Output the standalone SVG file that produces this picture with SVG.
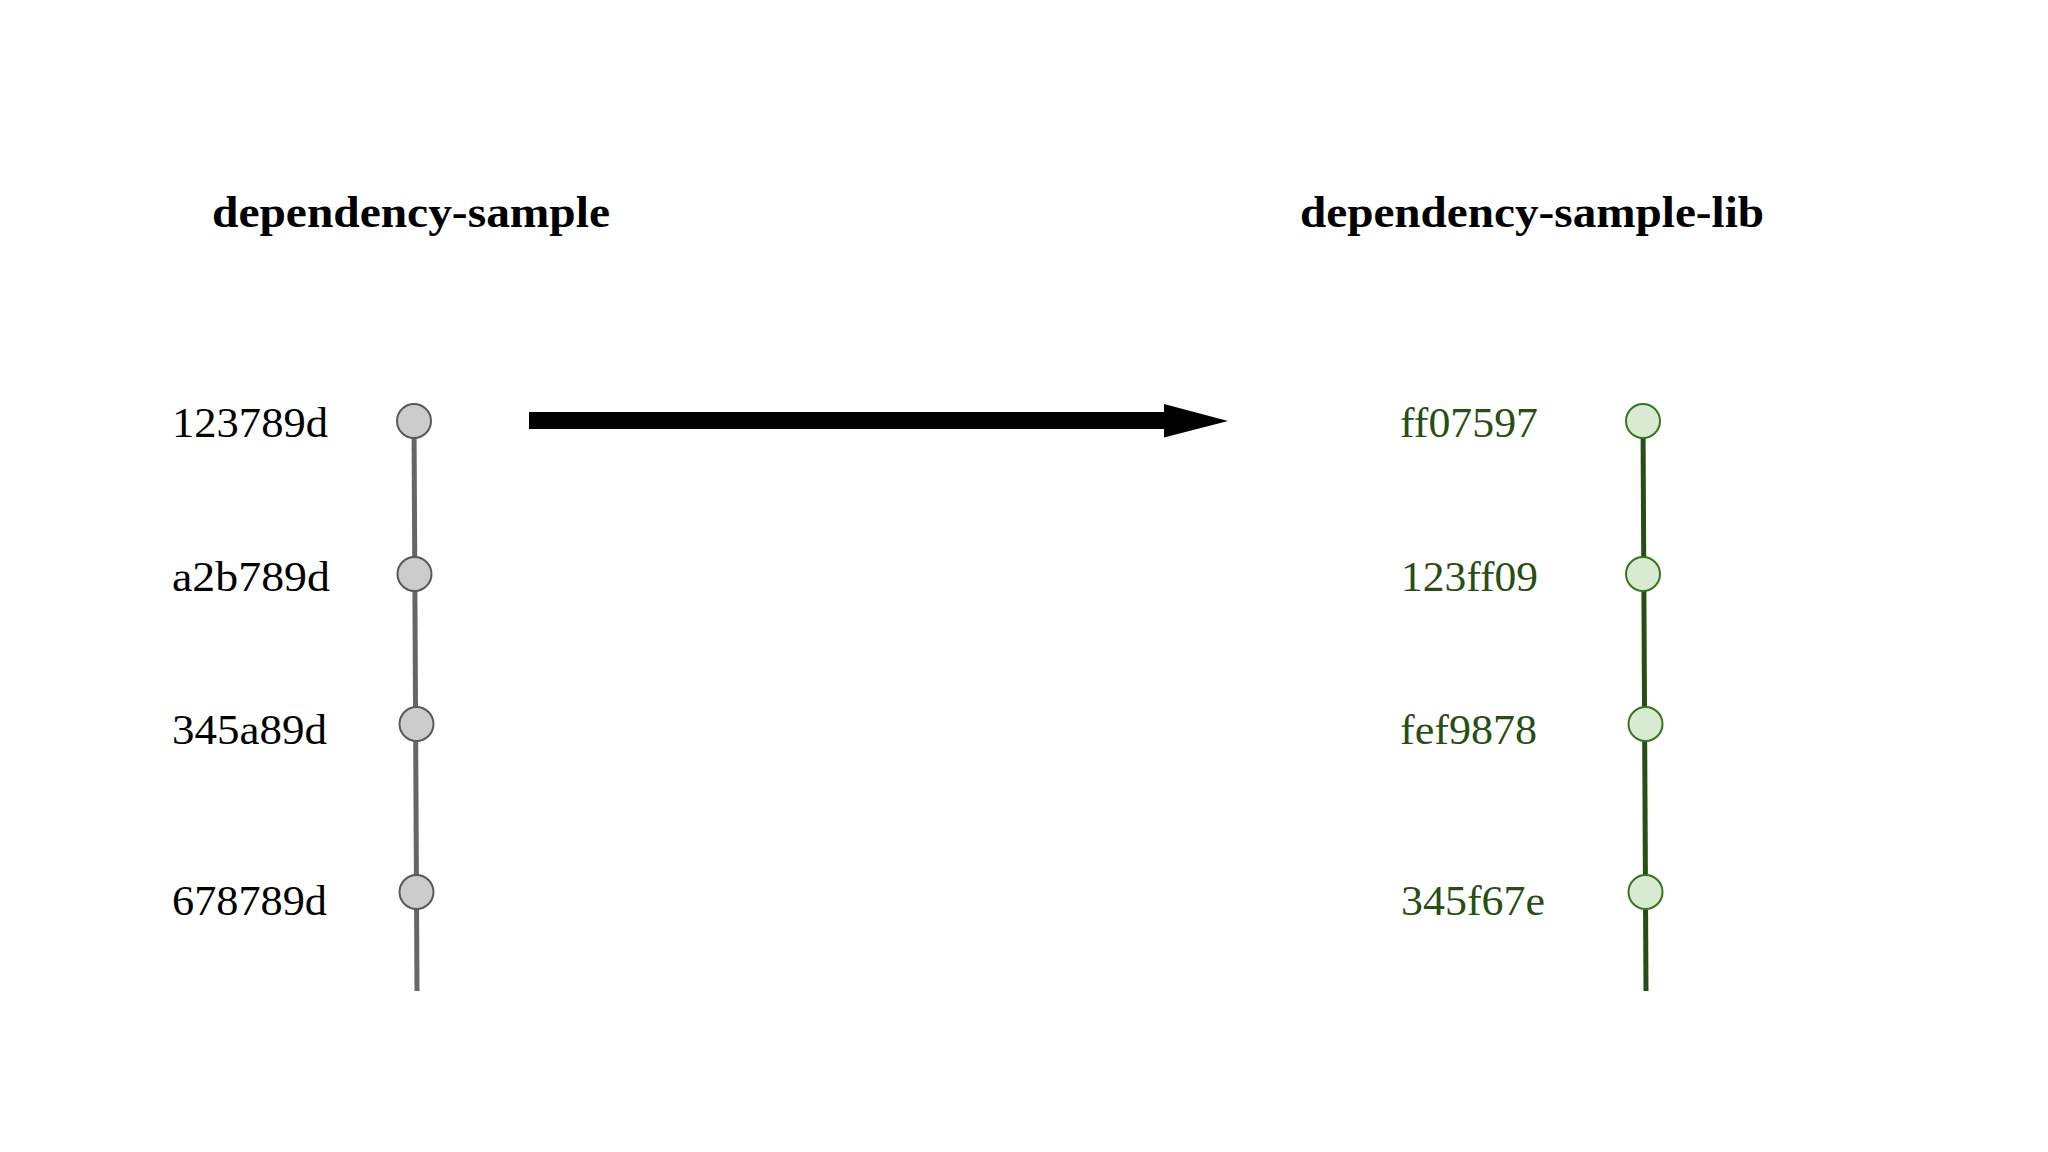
<svg xmlns="http://www.w3.org/2000/svg" width="2048" height="1152" viewBox="0 0 2048 1152">
<style>
.title{font-family:"Liberation Serif","DejaVu Serif",serif;font-weight:bold;font-size:45px;fill:#000}
.lbl{font-family:"Liberation Serif","DejaVu Serif",serif;font-size:43px}
.lbl-l{fill:#000}
.lbl-r{fill:#274e13}
.c-l{fill:#cccccc;stroke:#595959;stroke-width:2}
.c-r{fill:#d9ead3;stroke:#38761d;stroke-width:2}
.ln-l{stroke:#666666;stroke-width:5;fill:none}
.ln-r{stroke:#274e13;stroke-width:5;fill:none}
</style>
<rect width="2048" height="1152" fill="#ffffff"/>
<g id="connectors">
<line class="ln-l" x1="414" y1="421" x2="417" y2="991"/>
<line class="ln-r" x1="1643" y1="421" x2="1646" y2="991"/>
<polygon id="arrow" points="529,412 1164,412 1164,404 1228,421 1164,437.5 1164,429 529,429" fill="#000"/>
</g>
<g id="title-left"><text class="title" x="212" y="227" textLength="398" lengthAdjust="spacingAndGlyphs">dependency-sample</text></g>
<g id="title-right"><text class="title" x="1300" y="227" textLength="464" lengthAdjust="spacingAndGlyphs">dependency-sample-lib</text></g>
<g id="node-123789d"><circle class="c-l" cx="414" cy="421" r="17"/><text class="lbl lbl-l" x="172" y="437" textLength="156" lengthAdjust="spacingAndGlyphs">123789d</text></g>
<g id="node-a2b789d"><circle class="c-l" cx="414.5" cy="574" r="17"/><text class="lbl lbl-l" x="172" y="591" textLength="158" lengthAdjust="spacingAndGlyphs">a2b789d</text></g>
<g id="node-345a89d"><circle class="c-l" cx="416.5" cy="724" r="17"/><text class="lbl lbl-l" x="172" y="744" textLength="155" lengthAdjust="spacingAndGlyphs">345a89d</text></g>
<g id="node-678789d"><circle class="c-l" cx="416.5" cy="892" r="17"/><text class="lbl lbl-l" x="172" y="915" textLength="155" lengthAdjust="spacingAndGlyphs">678789d</text></g>
<g id="node-ff07597"><circle class="c-r" cx="1643" cy="421" r="17"/><text class="lbl lbl-r" x="1400" y="437" textLength="138" lengthAdjust="spacingAndGlyphs">ff07597</text></g>
<g id="node-123ff09"><circle class="c-r" cx="1643" cy="574" r="17"/><text class="lbl lbl-r" x="1401" y="591" textLength="137" lengthAdjust="spacingAndGlyphs">123ff09</text></g>
<g id="node-fef9878"><circle class="c-r" cx="1645.5" cy="724" r="17"/><text class="lbl lbl-r" x="1400" y="744" textLength="137" lengthAdjust="spacingAndGlyphs">fef9878</text></g>
<g id="node-345f67e"><circle class="c-r" cx="1645.5" cy="892" r="17"/><text class="lbl lbl-r" x="1401" y="915" textLength="144" lengthAdjust="spacingAndGlyphs">345f67e</text></g>
</svg>
